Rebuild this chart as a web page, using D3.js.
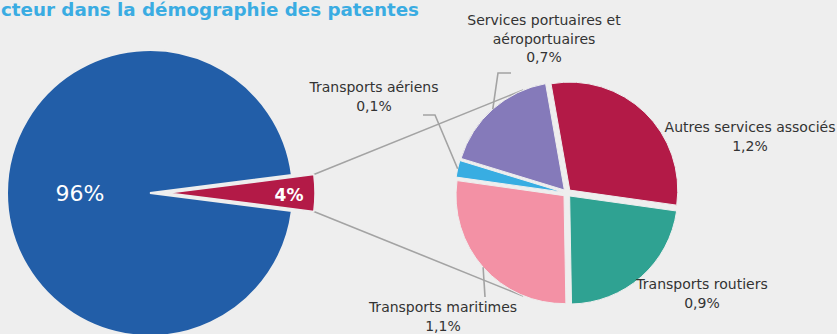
<!DOCTYPE html>
<html>
<head>
<meta charset="utf-8">
<script src="https://cdn.jsdelivr.net/npm/d3@7"></script>
<style>
  html, body { margin: 0; padding: 0; background: #eeeeee; overflow: hidden; }
  svg { display: block; }
  text { font-family: "DejaVu Sans", sans-serif; }
</style>
</head>
<body>
<svg id="chart" width="837" height="334"></svg>
<script>
// ---- data ----
const titleText = "cteur dans la démographie des patentes";

// main pie: share of the sector vs. everything else (percent)
const mainKeys = ["secteur", "reste"];
const mainValues = [4, 96];
const mainColors = ["#b31a47", "#225ea8"];

// breakdown of the 4% slice (percent of all patents)
const subLabels = [
  ["Autres services associés"],
  ["Transports routiers"],
  ["Transports maritimes"],
  ["Transports aériens"],
  ["Services portuaires et", "aéroportuaires"]
];
const subValues = [1.2, 0.9, 1.1, 0.1, 0.7];
const subColors = ["#b31a47", "#2fa292", "#f391a5", "#38ade2", "#857aba"];

// ---- helpers ----
const fr = d3.formatLocale({ decimal: ",", thousands: " ", grouping: [3], currency: ["", " €"] });
const fmt1 = fr.format(".1f");
const fmt0 = fr.format(".0f");
const deg = Math.PI / 180;
const polar = (c, r, a) => [c[0] + r * Math.sin(a), c[1] - r * Math.cos(a)];

const svg = d3.select("#chart");
const bg = "#eeeeee";
const lineColor = "#a3a3a3";
const textColor = "#333333";

// ---- layout ----
const mainC = [150, 193], mainR = 143;
const explode = 18, wedgeR = 147;
const subC = [567, 193], subR = 108, subExplode = 4;
const subStart = -10 * deg;

// main pie: the highlighted slice is centred on the right-hand side
const mainShare = mainValues[0] / d3.sum(mainValues);
const mainStart = Math.PI / 2 - mainShare * Math.PI;
const mainPie = d3.pie().sort(null).startAngle(mainStart).endAngle(mainStart + 2 * Math.PI)(mainValues);

const subPie = d3.pie().sort(null).startAngle(subStart).endAngle(subStart + 2 * Math.PI)(subValues);

// title
svg.append("text")
  .attr("x", 419).attr("y", 15.5)
  .attr("text-anchor", "end")
  .attr("font-size", 18.3).attr("font-weight", "bold")
  .attr("fill", "#3aace2")
  .text(titleText);

// connector lines from the pulled-out wedge to the breakdown pie
const wedge = mainPie[0];
const wedgeC = [mainC[0] + explode, mainC[1]];
const cornerTop = polar(wedgeC, wedgeR, wedge.startAngle);
const cornerBot = polar(wedgeC, wedgeR, wedge.endAngle);
const tanTop = polar(subC, subR + subExplode, -23 * deg);
const tanBot = polar(subC, subR + subExplode, 203 * deg);
svg.append("g").attr("stroke", lineColor).attr("stroke-width", 1.6).attr("fill", "none")
  .selectAll("line").data([[cornerTop, tanTop], [cornerBot, tanBot]]).join("line")
  .attr("x1", d => d[0][0]).attr("y1", d => d[0][1])
  .attr("x2", d => d[1][0]).attr("y2", d => d[1][1]);

// main pie
const mainArc = d3.arc().innerRadius(0);
const gMain = svg.append("g");
gMain.append("path")
  .attr("transform", `translate(${mainC})`)
  .attr("d", mainArc.outerRadius(mainR)(mainPie[1]))
  .attr("fill", mainColors[1]).attr("stroke", bg).attr("stroke-width", 2);
gMain.append("path")
  .attr("transform", `translate(${wedgeC})`)
  .attr("d", mainArc.outerRadius(wedgeR)(mainPie[0]))
  .attr("fill", mainColors[0]).attr("stroke", bg).attr("stroke-width", 1.5);

// main pie labels
const restMid = (mainPie[1].startAngle + mainPie[1].endAngle) / 2;
const restPos = polar(mainC, 70, restMid);
svg.append("text")
  .attr("x", restPos[0]).attr("y", restPos[1] + 8)
  .attr("text-anchor", "middle").attr("font-size", 22).attr("fill", "#ffffff")
  .text(fmt0(mainValues[1]) + "%");
const wedgeMid = (wedge.startAngle + wedge.endAngle) / 2;
const wedgePos = polar(wedgeC, 121, wedgeMid);
svg.append("text")
  .attr("x", wedgePos[0]).attr("y", wedgePos[1] + 8)
  .attr("text-anchor", "middle").attr("font-size", 17).attr("font-weight", "bold").attr("fill", "#ffffff")
  .text(fmt0(mainValues[0]) + "%");

// breakdown pie (slices pulled slightly apart)
const subArc = d3.arc().innerRadius(0).outerRadius(subR);
const gSub = svg.append("g").attr("transform", `translate(${subC})`);
gSub.selectAll("path").data(subPie).join("path")
  .attr("transform", d => {
    const m = (d.startAngle + d.endAngle) / 2;
    return `translate(${subExplode * Math.sin(m)},${-subExplode * Math.cos(m)})`;
  })
  .attr("d", subArc)
  .attr("fill", (d, i) => subColors[i])
  .attr("stroke", bg).attr("stroke-width", 1);

// label placement for the breakdown pie: centre x, first baseline, optional leader elbow
const labelLayout = [
  { x: 750, y: 132, leader: null },
  { x: 702, y: 289, leader: null },
  { x: 443, y: 312, leader: [[485, 297]] },
  { x: 374, y: 92, leader: [[423, 115], [435, 115]] },
  { x: 544, y: 25, leader: [[511, 73], [498, 73]] }
];
const lineH = 18.5;

const gLab = svg.append("g");
subPie.forEach((d, i) => {
  const L = labelLayout[i];
  if (L.leader) {
    const m = (d.startAngle + d.endAngle) / 2;
    const end = polar(subC, subR + subExplode, m);
    gLab.append("path")
      .attr("d", d3.line()([...L.leader, end]))
      .attr("fill", "none").attr("stroke", lineColor).attr("stroke-width", 1.6);
  }
  const lines = [...subLabels[i], fmt1(subValues[i]) + "%"];
  const t = gLab.append("text")
    .attr("text-anchor", "middle").attr("font-size", 14).attr("fill", textColor);
  lines.forEach((s, k) => {
    t.append("tspan").attr("x", L.x).attr("y", L.y + k * lineH).text(s);
  });
});
</script>
</body>
</html>
